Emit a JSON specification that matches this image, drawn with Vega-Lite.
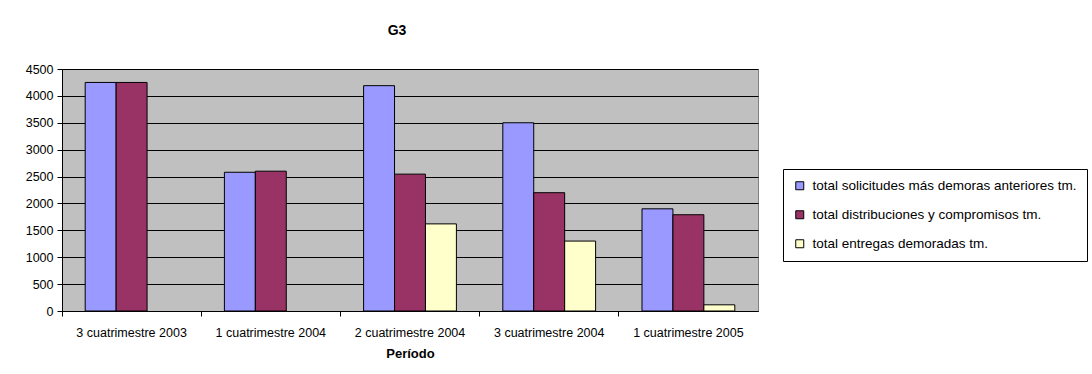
{
  "$schema": "https://vega.github.io/schema/vega-lite/v6.json",
  "autosize": {"type": "none"},
  "padding": {"left": 62, "top": 69, "right": 334, "bottom": 63},
  "width": 696,
  "height": 242,
  "background": "white",
  "title": {"text": "G3", "anchor": "middle", "dx": -13, "offset": 14, "baseline": "alphabetic", "font": "Liberation Sans", "fontSize": 14, "fontWeight": "bold", "color": "black"},
  "config": {
    "font": "Liberation Sans",
    "view": {"fill": "#C0C0C0", "stroke": "#808080", "strokeWidth": 1}
  },
  "data": {"values": [
    {"periodo": "3 cuatrimestre 2003", "serie": "total solicitudes más demoras anteriores tm.", "valor": 4250},
    {"periodo": "3 cuatrimestre 2003", "serie": "total distribuciones y compromisos tm.", "valor": 4250},
    {"periodo": "1 cuatrimestre 2004", "serie": "total solicitudes más demoras anteriores tm.", "valor": 2580},
    {"periodo": "1 cuatrimestre 2004", "serie": "total distribuciones y compromisos tm.", "valor": 2600},
    {"periodo": "2 cuatrimestre 2004", "serie": "total solicitudes más demoras anteriores tm.", "valor": 4190},
    {"periodo": "2 cuatrimestre 2004", "serie": "total distribuciones y compromisos tm.", "valor": 2545},
    {"periodo": "2 cuatrimestre 2004", "serie": "total entregas demoradas tm.", "valor": 1620},
    {"periodo": "3 cuatrimestre 2004", "serie": "total solicitudes más demoras anteriores tm.", "valor": 3500},
    {"periodo": "3 cuatrimestre 2004", "serie": "total distribuciones y compromisos tm.", "valor": 2200},
    {"periodo": "3 cuatrimestre 2004", "serie": "total entregas demoradas tm.", "valor": 1300},
    {"periodo": "1 cuatrimestre 2005", "serie": "total solicitudes más demoras anteriores tm.", "valor": 1900},
    {"periodo": "1 cuatrimestre 2005", "serie": "total distribuciones y compromisos tm.", "valor": 1790},
    {"periodo": "1 cuatrimestre 2005", "serie": "total entregas demoradas tm.", "valor": 115}
  ]},
  "mark": {"type": "bar", "stroke": "black", "strokeWidth": 1},
  "encoding": {
    "x": {
      "field": "periodo", "type": "nominal", "sort": null,
      "scale": {"paddingInner": 0, "paddingOuter": 0},
      "axis": {
        "title": "Período", "titleFont": "Liberation Sans", "titleFontSize": 13, "titleFontWeight": "bold", "titleColor": "black", "titlePadding": 9,
        "labelAngle": 0, "labelFontSize": 12.5, "labelColor": "black", "labelPadding": 10,
        "bandPosition": 0, "tickSize": 5, "tickColor": "black", "domainColor": "black", "grid": false
      }
    },
    "xOffset": {
      "field": "serie", "type": "nominal",
      "sort": ["total solicitudes más demoras anteriores tm.", "total distribuciones y compromisos tm.", "total entregas demoradas tm."],
      "scale": {"paddingInner": 0, "paddingOuter": 0.75}
    },
    "y": {
      "field": "valor", "type": "quantitative",
      "scale": {"domain": [0, 4500], "nice": false},
      "axis": {
        "title": null, "values": [0, 500, 1000, 1500, 2000, 2500, 3000, 3500, 4000, 4500], "format": "d",
        "labelFontSize": 12.5, "labelColor": "black", "labelPadding": 4,
        "tickSize": 5, "tickColor": "black", "domainColor": "black",
        "grid": true, "gridColor": "black", "gridOpacity": 1, "gridWidth": 1
      }
    },
    "color": {
      "field": "serie", "type": "nominal",
      "scale": {
        "domain": ["total solicitudes más demoras anteriores tm.", "total distribuciones y compromisos tm.", "total entregas demoradas tm."],
        "range": ["#9999FF", "#993366", "#FFFFCC"]
      },
      "legend": {
        "title": null, "orient": "none", "legendX": 721, "legendY": 100,
        "symbolType": "square", "symbolSize": 64, "symbolStrokeColor": "black", "symbolStrokeWidth": 1,
        "labelFontSize": 13.5, "labelColor": "black", "labelLimit": 400, "labelOffset": 6,
        "rowPadding": 14, "padding": 10, "strokeColor": "black", "fillColor": "white"
      }
    }
  }
}
